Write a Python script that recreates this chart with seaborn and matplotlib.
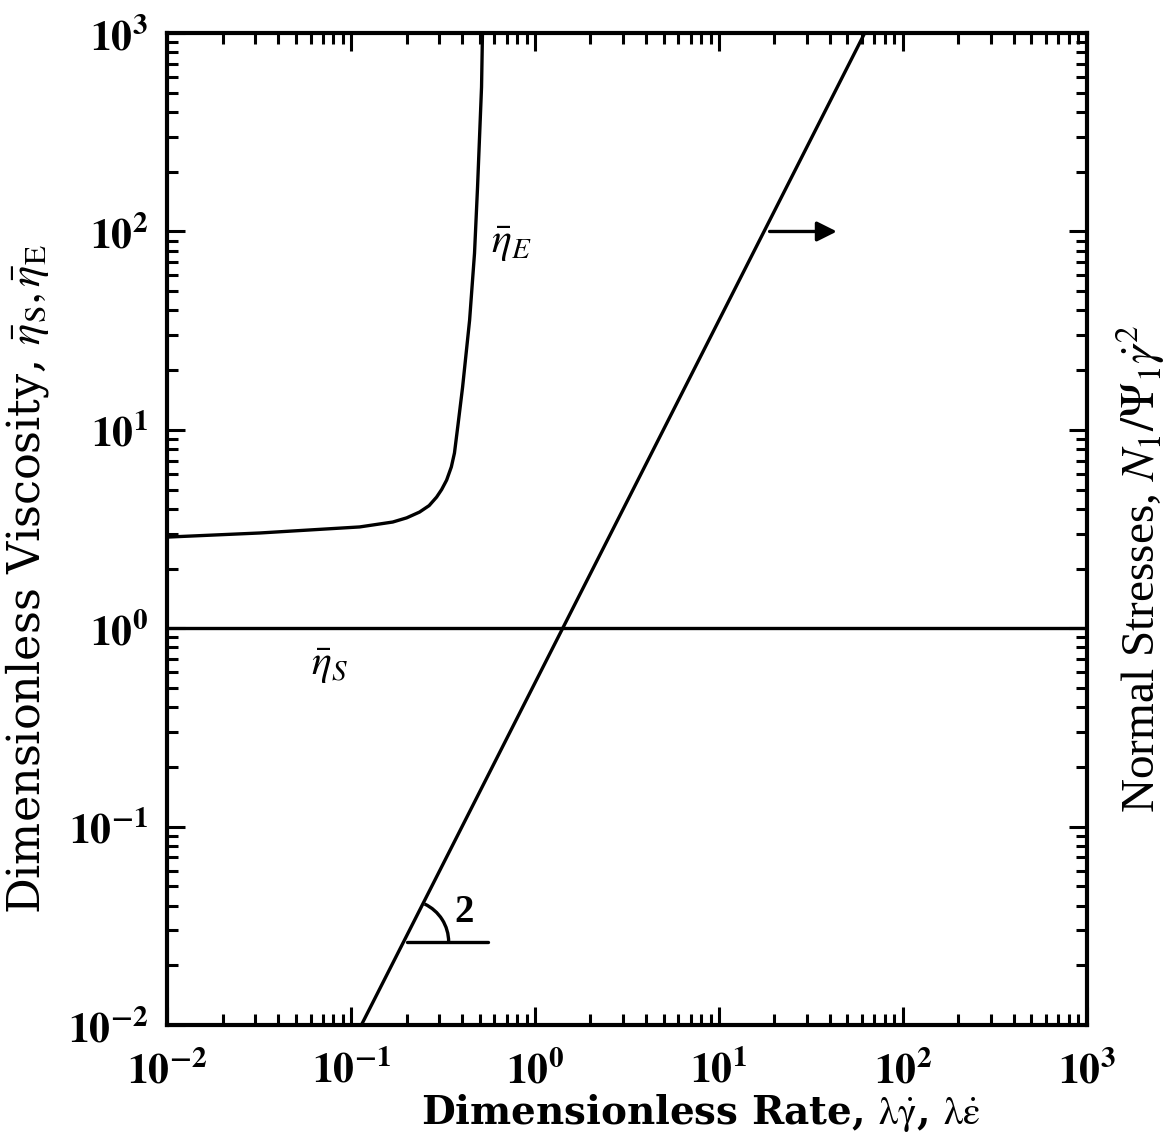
import numpy as np
import pandas as pd
import seaborn as sns
import matplotlib.pyplot as plt
from matplotlib.patches import Arc
from matplotlib.ticker import LogLocator, FixedLocator, FixedFormatter, NullFormatter

# --- data ---
# extensional viscosity curve
eta_e_rate = [0.01, 0.0317, 0.111, 0.168, 0.2, 0.235, 0.265, 0.291, 0.31, 0.330, 0.35,
              0.364, 0.38, 0.403, 0.440, 0.468, 0.486, 0.511, 0.517]
eta_e_visc = [2.88, 3.02, 3.24, 3.43, 3.6, 3.85, 4.15, 4.58, 5.0, 5.58, 6.5,
              7.64, 10.5, 16.4, 35.7, 77.8, 167, 535, 1000]
# shear viscosity (flat)
eta_s_rate = [0.01, 1000]
eta_s_visc = [1.0, 1.0]
# normal stress line (slope 2)
n1_rate = [0.1135, 62.0]
n1_value = [0.01, 1000]

decades = [1e-2, 1e-1, 1e0, 1e1, 1e2, 1e3]
x_ticklabels = [r"$\mathbf{10^{-2}}$", r"$\mathbf{10^{-1}}$", r"$\mathbf{10^{0}}$",
                r"$\mathbf{10^{1}}$", r"$\mathbf{10^{2}}$", r"$\mathbf{10^{3}}$"]
y_ticklabels = x_ticklabels

sns.set_theme(style="ticks")
plt.rcParams['font.family'] = ['DejaVu Serif']
plt.rcParams['mathtext.fontset'] = 'stix'
plt.rcParams['text.color'] = 'black'
plt.rcParams['axes.labelcolor'] = 'black'

fig, ax = plt.subplots(figsize=(11.71, 11.42), dpi=100)
fig.subplots_adjust(left=0.143, right=0.928, bottom=0.1025, top=0.971)

df_e = pd.DataFrame({"rate": eta_e_rate, "visc": eta_e_visc})
df_s = pd.DataFrame({"rate": eta_s_rate, "visc": eta_s_visc})
df_n = pd.DataFrame({"rate": n1_rate, "visc": n1_value})
for d in (df_e, df_s, df_n):
    sns.lineplot(data=d, x="rate", y="visc", ax=ax, color="black", lw=2.4, sort=False)

ax.set(xscale="log", yscale="log", xlim=(1e-2, 1e3), ylim=(1e-2, 1e3))

# ticks
for axis in (ax.xaxis, ax.yaxis):
    axis.set_major_locator(FixedLocator(decades))
    axis.set_minor_locator(LogLocator(base=10, subs=np.arange(2, 10), numticks=20))
    axis.set_minor_formatter(NullFormatter())
ax.xaxis.set_major_formatter(FixedFormatter(x_ticklabels))
ax.yaxis.set_major_formatter(FixedFormatter(y_ticklabels))
ax.tick_params(which="both", direction="in", top=True, right=True, width=2.2, colors="black")
ax.tick_params(which="major", length=13, labelsize=30)
ax.tick_params(axis="x", which="major", pad=18)
ax.tick_params(axis="y", which="major", pad=14)
ax.tick_params(which="minor", length=8)
for sp in ax.spines.values():
    sp.set_linewidth(3)
    sp.set_color("black")

# labels
ax.set_xlabel(r"Dimensionless Rate, $\mathrm{\lambda}\dot{\mathrm{\gamma}}$, $\mathrm{\lambda}\dot{\mathrm{\epsilon}}$",
              fontsize=28, fontweight="bold")
ax.xaxis.set_label_coords(0.58, -0.068)
ax.set_ylabel(r"Dimensionless Viscosity, $\bar{\eta}_\mathrm{S}, \bar{\eta}_\mathrm{E}$",
              fontsize=32)
ax.yaxis.set_label_coords(-0.127, 0.45)
ax.text(1.058, 0.46, r"Normal Stresses, $N_1/\Psi_1\dot{\gamma}^2$", transform=ax.transAxes,
        rotation=90, ha="center", va="center", fontsize=34, family="Liberation Serif")

# curve labels
ax.text(0.744, 87, r"$\bar{\eta}_E$", fontsize=30, ha="center", va="center")
ax.text(0.076, 0.65, r"$\bar{\eta}_S$", fontsize=30, ha="center", va="center")

# arrow pointing to the right axis
ax.annotate("", xy=(45.3, 100), xytext=(18.2, 100),
            arrowprops=dict(arrowstyle="-|>", color="black", lw=2.4, mutation_scale=30))

# slope triangle
ax.plot([0.2, 0.551], [0.0262, 0.0262], color="black", lw=2.4)
arc = Arc((0.2, 0.0262), width=2 * 42 / 919, height=2 * 42 / 992, theta1=0, theta2=63,
          color="black", lw=2.4)
arc.set_transform(ax.transAxes)
arc.set_center(ax.transAxes.inverted().transform(ax.transData.transform((0.2, 0.0262))))
ax.add_patch(arc)
ax.text(0.41, 0.0367, "2", fontsize=28, fontweight="bold", ha="center", va="center",
        family="Liberation Serif")

fig.savefig("out.png", dpi=100)
